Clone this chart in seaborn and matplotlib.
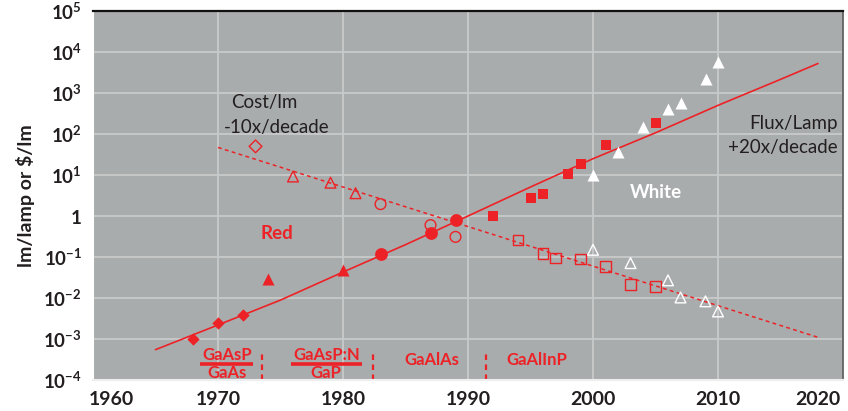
import numpy as np
import pandas as pd
import matplotlib
matplotlib.use("Agg")
import matplotlib.pyplot as plt
import matplotlib.ticker as mticker
import matplotlib.transforms as mtransforms
import seaborn as sns

# ---------------- data ----------------
# Flux per lamp - red LEDs (filled markers)
red_diamond_years = [1968, 1970, 1972]
red_diamond_flux = [1.0e-3, 2.4e-3, 3.8e-3]
red_triangle_years = [1974, 1980]
red_triangle_flux = [0.029, 0.048]
red_circle_years = [1983, 1987, 1989]
red_circle_flux = [0.12, 0.38, 0.78]
red_square_years = [1992, 1995, 1996, 1998, 1999, 2001, 2005]
red_square_flux = [1.0, 2.8, 3.5, 10.7, 19, 55, 190]
# Flux per lamp - white LEDs
white_triangle_years = [2000, 2002, 2004, 2006, 2007, 2009, 2010]
white_triangle_flux = [10, 37, 145, 400, 560, 2150, 5600]

# Cost per lumen (open markers)
cost_diamond_years = [1973]
cost_diamond = [50]
cost_triangle_years = [1976, 1979, 1981]
cost_triangle = [9.2, 6.5, 3.6]
cost_circle_years = [1983, 1987, 1989]
cost_circle = [1.95, 0.6, 0.31]
cost_square_years = [1994, 1996, 1997, 1999, 2001, 2003, 2005]
cost_square = [0.26, 0.12, 0.094, 0.089, 0.059, 0.021, 0.019]
cost_white_years = [2000, 2003, 2006, 2007, 2009, 2010]
cost_white = [0.15, 0.071, 0.027, 0.0103, 0.0083, 0.0047]

# Trend lines
flux_trend_years = [1965, 1970, 1975, 1980, 1985, 1990, 1995, 2000, 2005, 2010, 2015, 2018]
flux_trend = [5.5e-4, 2.2e-3, 8.9e-3, 4.3e-2, 0.20, 1.0, 5.1, 25, 107, 500, 2150, 5250]
cost_trend_years = [1970, 2018]
cost_trend = [47, 1.1e-3]

# Axis ticks
x_ticks = [1960, 1970, 1980, 1990, 2000, 2010, 2020]
y_ticks = [1e-4, 1e-3, 1e-2, 1e-1, 1, 1e1, 1e2, 1e3, 1e4, 1e5]
y_tick_labels = [r"$\mathbf{10^{-4}}$", r"$\mathbf{10^{-3}}$", r"$\mathbf{10^{-2}}$",
                 r"$\mathbf{10^{-1}}$", r"$\mathbf{1}$", r"$\mathbf{10^{1}}$",
                 r"$\mathbf{10^{2}}$", r"$\mathbf{10^{3}}$", r"$\mathbf{10^{4}}$",
                 r"$\mathbf{10^{5}}$"]

# Material eras (bottom annotations)
era_boundaries = [1973.5, 1982.4, 1991.4]

# ---------------- style ----------------
RED = "#ec2227"
GRAY = "#a9acac"
DARK = "#231f20"

sns.set_style("white", {"axes.facecolor": GRAY})
plt.rcParams["font.family"] = ["Lato", "DejaVu Sans"]
plt.rcParams["mathtext.fontset"] = "custom"
plt.rcParams["mathtext.rm"] = "Lato"
plt.rcParams["mathtext.bf"] = "Lato:bold"

fig = plt.figure(figsize=(8.48, 4.11), dpi=100)
ax = fig.add_axes([0.1097, 0.0754, 0.8844, 0.8978])
ax.set_facecolor(GRAY)

# grid
ax.set_yscale("log")
ax.set_xlim(1960, 2020)
ax.set_ylim(1e-4, 1e5)
ax.set_xticks(x_ticks)
ax.set_yticks(y_ticks)
ax.yaxis.set_minor_locator(mticker.NullLocator())
ax.xaxis.set_minor_locator(mticker.MultipleLocator(2))
ax.grid(True, which="major", color="#c9cbcb", linewidth=1.3)
ax.set_axisbelow(True)

# trend lines
sns.lineplot(x=flux_trend_years, y=flux_trend, ax=ax, color=RED, linewidth=1.2,
             estimator=None, sort=False, legend=False)
sns.lineplot(x=cost_trend_years, y=cost_trend, ax=ax, color=RED, linewidth=1.1,
             linestyle=(0, (2.5, 2.2)), estimator=None, legend=False)

# filled flux markers
sns.scatterplot(x=red_diamond_years, y=red_diamond_flux, ax=ax, marker="D", s=40,
                color=RED, edgecolor=RED, linewidth=0, zorder=3)
sns.scatterplot(x=red_triangle_years, y=red_triangle_flux, ax=ax, marker="^", s=75,
                color=RED, edgecolor=RED, linewidth=0, zorder=3)
sns.scatterplot(x=red_circle_years, y=red_circle_flux, ax=ax, marker="o", s=85,
                color=RED, edgecolor=RED, linewidth=0, zorder=3)
sns.scatterplot(x=red_square_years, y=red_square_flux, ax=ax, marker="s", s=55,
                color=RED, edgecolor=RED, linewidth=0, zorder=3)
sns.scatterplot(x=white_triangle_years, y=white_triangle_flux, ax=ax, marker="^", s=75,
                color="white", edgecolor="white", linewidth=0, zorder=3)

# open cost markers
open_kw = dict(facecolor="none", linewidth=1.0, zorder=3)
sns.scatterplot(x=cost_diamond_years, y=cost_diamond, ax=ax, marker="D", s=42,
                edgecolor=RED, **open_kw)
sns.scatterplot(x=cost_triangle_years, y=cost_triangle, ax=ax, marker="^", s=60,
                edgecolor=RED, **open_kw)
sns.scatterplot(x=cost_circle_years, y=cost_circle, ax=ax, marker="o", s=60,
                edgecolor=RED, **open_kw)
sns.scatterplot(x=cost_square_years, y=cost_square, ax=ax, marker="s", s=60,
                edgecolor=RED, **open_kw)
sns.scatterplot(x=cost_white_years, y=cost_white, ax=ax, marker="^", s=60,
                edgecolor="white", **open_kw)

# era separators
ax.vlines(era_boundaries, 1e-4, 10 ** -3.3, colors=RED, linestyles=(0, (2.5, 2)),
          linewidth=1.6)

# spines
for side, col, lw in [("top", "#111111", 1.6), ("right", "#555555", 1.2),
                      ("left", "white", 1.5), ("bottom", "#eeeeee", 1.5)]:
    ax.spines[side].set_color(col)
    ax.spines[side].set_linewidth(lw)
    ax.spines[side].set_visible(True)

# ticks
ax.set_yticklabels(y_tick_labels)
ax.tick_params(axis="y", which="major", length=0, pad=8, labelsize=13.5, labelcolor=DARK)
ax.tick_params(axis="x", which="major", length=0, pad=8, labelsize=14, labelcolor=DARK)
ax.tick_params(axis="x", which="minor", direction="in", length=4, color="#d8d8d8", width=1)
xlabels = ax.get_xticklabels()
for lab in xlabels:
    lab.set_fontweight("bold")
xlabels[0].set_transform(xlabels[0].get_transform() +
                         mtransforms.ScaledTranslation(0.18, 0, fig.dpi_scale_trans))
xlabels[-1].set_transform(xlabels[-1].get_transform() +
                          mtransforms.ScaledTranslation(-0.25, 0, fig.dpi_scale_trans))

ax.set_xlabel("")
ax.set_ylabel("lm/lamp or $/lm", fontsize=14, fontweight="bold", color=DARK, labelpad=6)

# annotations
T = ax.transAxes
ax.text(0.229, 0.753, "Cost/lm", transform=T, ha="center", va="center",
        fontsize=13.5, color=DARK)
ax.text(0.245, 0.683, "-10x/decade", transform=T, ha="center", va="center",
        fontsize=13.5, color=DARK)
ax.text(0.245, 0.398, "Red", transform=T, ha="center", va="center",
        fontsize=13.5, color=RED, fontweight="bold")
ax.text(0.751, 0.507, "White", transform=T, ha="center", va="center",
        fontsize=13.5, color="white", fontweight="bold")
ax.text(0.993, 0.696, "Flux/Lamp", transform=T, ha="right", va="center",
        fontsize=13.5, color=DARK)
ax.text(0.993, 0.629, "+20x/decade", transform=T, ha="right", va="center",
        fontsize=13.5, color=DARK)

lab_kw = dict(transform=T, ha="center", va="center", fontsize=12, color=RED,
              fontweight="bold")
ax.text(0.179, 0.068, "GaAsP", **lab_kw)
ax.text(0.179, 0.018, "GaAs", **lab_kw)
ax.plot([0.143, 0.213], [0.043, 0.043], transform=T, color=RED, linewidth=2.6,
        solid_capstyle="butt")
ax.text(0.311, 0.068, "GaAsP:N", **lab_kw)
ax.text(0.311, 0.018, "GaP", **lab_kw)
ax.plot([0.264, 0.359], [0.043, 0.043], transform=T, color=RED, linewidth=2.6,
        solid_capstyle="butt")
ax.text(0.452, 0.054, "GaAlAs", **lab_kw)
ax.text(0.592, 0.054, "GaAlInP", **lab_kw)

fig.savefig("out.png", dpi=100, facecolor="white")
